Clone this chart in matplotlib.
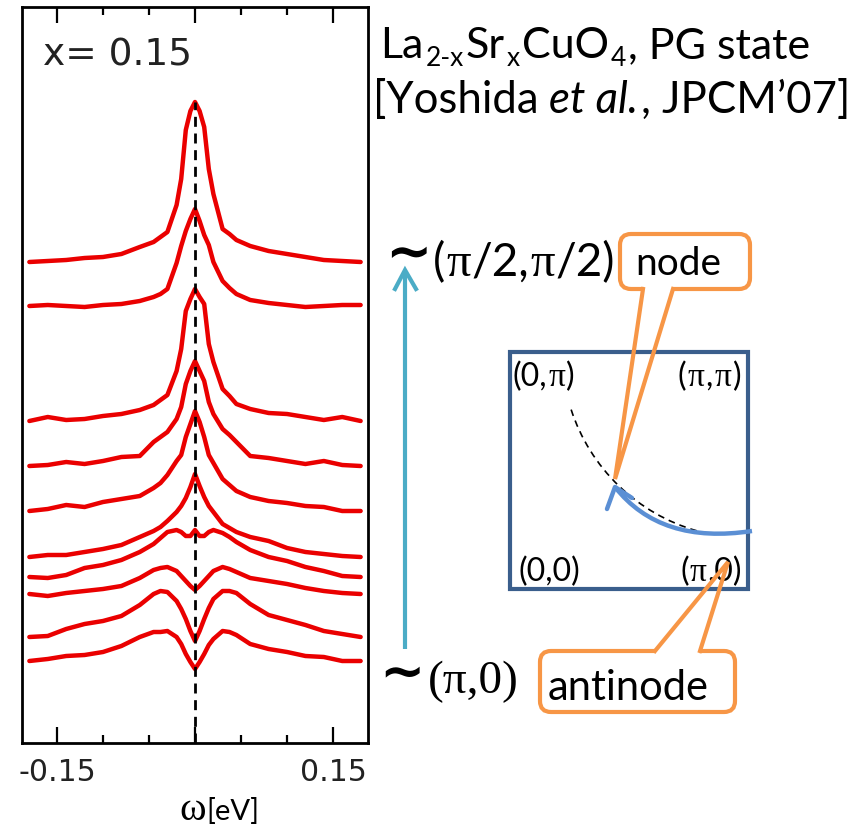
import numpy as np
import matplotlib
matplotlib.use("Agg")
import matplotlib.pyplot as plt
from matplotlib.patches import FancyBboxPatch, Polygon, Rectangle, Arc, PathPatch
from matplotlib.path import Path

W, H = 858, 828

# 能量网格 (eV)
omega = [-0.18, -0.16, -0.14, -0.12, -0.10, -0.08, -0.06, -0.045, -0.0375, -0.03, -0.02, -0.015,
         -0.01, -0.005, 0.0, 0.005, 0.01, 0.015, 0.02, 0.03, 0.0375, 0.045, 0.06, 0.08, 0.10,
         0.12, 0.14, 0.16, 0.18]

# EDC 强度 (a.u., 已叠加偏移), 从 ~(pi/2,pi/2) 到 ~(pi,0)
edc_01 = [481, 482, 483, 485, 486, 489, 496, 501, 506, 511, 538, 564, 613, 632, 641, 632, 616, 574, 549, 514, 509, 503, 497, 492, 489, 486, 483, 482, 481]
edc_02 = [437, 438, 437, 436, 438, 439, 442, 446, 449, 454, 480, 497, 512, 524, 534, 522, 508, 498, 481, 462, 455, 449, 443, 440, 438, 436, 437, 438, 438]
edc_03 = [322, 326, 323, 324, 327, 329, 333, 338, 343, 348, 372, 394, 432, 444, 454, 446, 439, 399, 381, 354, 347, 339, 334, 330, 329, 326, 323, 326, 322]
edc_04 = [277, 278, 281, 279, 282, 286, 287, 301, 306, 311, 324, 336, 359, 372, 382, 372, 362, 341, 329, 314, 308, 301, 287, 285, 282, 279, 282, 278, 277]
edc_05 = [232, 234, 238, 236, 241, 244, 247, 255, 260, 268, 282, 288, 306, 319, 332, 321, 306, 288, 280, 264, 258, 252, 246, 242, 240, 237, 236, 232, 232]
edc_06 = [186, 188, 188, 191, 194, 198, 206, 212, 216, 222, 231, 237, 245, 256, 269, 257, 246, 237, 231, 219, 215, 211, 206, 202, 195, 191, 189, 187, 186]
edc_07 = [166, 165, 168, 175, 178, 183, 191, 199, 205, 211, 213, 211, 207, 207, 213, 207, 207, 211, 213, 210, 206, 201, 193, 186, 182, 176, 172, 167, 166]
edc_08 = [149, 147, 150, 152, 154, 157, 165, 173, 175, 176, 172, 167, 162, 157, 153, 157, 162, 167, 172, 176, 174, 171, 165, 162, 159, 155, 152, 150, 149]
edc_09 = [106, 107, 114, 119, 122, 127, 138, 149, 152, 151, 142, 134, 124, 112, 102, 112, 124, 135, 144, 152, 152, 150, 139, 128, 123, 118, 112, 109, 106]
edc_10 = [82, 84, 87, 88, 91, 97, 106, 111, 111, 112, 106, 99, 89, 81, 74, 81, 89, 98, 104, 112, 111, 108, 99, 94, 91, 87, 86, 82, 82]
edcs = [edc_01, edc_02, edc_03, edc_04, edc_05, edc_06, edc_07, edc_08, edc_09, edc_10]

major_ticks = [-0.15, 0.0, 0.15]
major_labels = ["-0.15", "", "0.15"]
minor_ticks = [-0.10, -0.05, 0.05, 0.10]

ORANGE = "#f79646"
BZ_BLUE = "#3a5e8c"
ARROW_BLUE = "#5b8fd4"
CYAN = "#4bacc6"
SANS = ["Lato", "DejaVu Sans"]
SERIF = ["Liberation Serif", "DejaVu Serif"]

fig = plt.figure(figsize=(W / 100, H / 100), dpi=100)

# 左侧 EDC 图
ax = fig.add_axes([22 / W, 1 - 744 / H, 346 / W, 736 / H])
for e in edcs:
    ax.plot(omega, e, color="#ea0000", lw=3.2, solid_joinstyle="round", solid_capstyle="round", zorder=2)
ax.plot([0, 0], [0, max(edc_01)], color="black", lw=2, ls=(0, (3.6, 2.4)), zorder=3)
ax.set_xlim(-0.188, 0.188)
ax.set_ylim(0, 736)
ax.set_yticks([])
ax.set_xticks(major_ticks)
ax.set_xticklabels(major_labels)
ax.set_xticks(minor_ticks, minor=True)
ax.tick_params(axis="x", which="both", direction="in", top=True, width=1.6,
               labelsize=21.5, pad=10, labelcolor="#222222")
ax.tick_params(axis="x", which="major", length=11.5)
ax.tick_params(axis="x", which="minor", length=5.5)
for s in ax.spines.values():
    s.set_linewidth(2)

# 覆盖层 (像素坐标)
ov = fig.add_axes([0, 0, 1, 1])
ov.set_xlim(0, W)
ov.set_ylim(H, 0)
ov.axis("off")

rend = fig.canvas.get_renderer()


def runs(x, y, parts, align="left"):
    cx = x
    made = []
    for p in parts:
        s, fam, size = p[0], p[1], p[2]
        dy = p[3] if len(p) > 3 else 0
        style = p[4] if len(p) > 4 else "normal"
        gap = p[5] if len(p) > 5 else size * 0.08
        t = ov.text(cx, y + dy, s, family=fam, size=size, style=style,
                    va="baseline", ha="left", color="black", zorder=6)
        w = t.get_window_extent(rend).width
        made.append(t)
        cx += w + gap
    total = cx - x
    if align == "right":
        for t in made:
            t.set_x(t.get_position()[0] - total)
    return total


ov.text(43, 65, "x= 0.15", family="DejaVu Sans", size=27, color="#222222", va="baseline")
runs(179, 820, [("ω", SERIF, 29, 0, "normal", 1), ("[eV]", SANS, 21)])

# 标题
runs(380, 58, [("La", SANS, 31), ("2-x", SANS, 19, 8), ("Sr", SANS, 31), ("x", SANS, 19, 8),
               ("CuO", SANS, 31), ("4", SANS, 19, 8), (", PG state", SANS, 31)])
runs(373, 113, [("[Yoshida", SANS, 31.5, 0, "normal", 10), ("et al.", SANS, 31.5, 0, "italic", 3),
                (", JPCM’07]", SANS, 31.5)])

# 青色箭头
ov.plot([405, 405], [650, 272], color=CYAN, lw=3, solid_capstyle="butt")
ov.plot([395, 405, 416], [290, 271, 290], color=CYAN, lw=3, solid_joinstyle="miter")
ov.text(385, 270, "∼", family="DejaVu Sans", size=40, weight="bold", va="baseline")
ov.text(379, 688, "∼", family="DejaVu Sans", size=39, weight="bold", va="baseline")
runs(433, 276, [("(", SANS, 33, 0, "normal", 1), ("π", SERIF, 35, 0, "normal", 1),
                ("/2,", SANS, 33, 0, "normal", 1), ("π", SERIF, 35, 0, "normal", 1),
                ("/2)", SANS, 33)])
runs(428, 693, [("(π,0)", SERIF, 34)])

# 布里渊区
ov.add_patch(Rectangle((510, 353), 238, 237, fill=False, ec=BZ_BLUE, lw=3, zorder=3))
runs(513, 386, [("(0,", SANS, 23, 0, "normal", 1), ("π", SERIF, 24, 0, "normal", 1), (")", SANS, 23)])
runs(743, 386, [("(", SANS, 23, 0, "normal", 1), ("π", SERIF, 24, 0, "normal", 1), (",", SANS, 23, 0, "normal", 2),
                ("π", SERIF, 24, 0, "normal", 1), (")", SANS, 23)], align="right")
runs(518, 581, [("(0,0)", SANS, 23)])
runs(744, 581, [("(", SANS, 23, 0, "normal", 1), ("π", SERIF, 24, 0, "normal", 1), (",0)", SANS, 23)], align="right")
ov.add_patch(Arc((748, 353), 372, 372, theta1=106, theta2=162, color="black", lw=1.2,
                 ls=(0, (4, 3)), zorder=4))

# 蓝色弯箭头
blue = Path([(752, 532), (660.5, 546), (615, 488)], [Path.MOVETO, Path.CURVE3, Path.CURVE3])
ov.add_patch(PathPatch(blue, fill=False, ec=ARROW_BLUE, lw=3.2, zorder=5, capstyle="butt"))
ov.plot([607, 615, 632], [510, 488, 499], color=ARROW_BLUE, lw=3.2, zorder=5, solid_capstyle="round")


# 标注框
def callout(box, base, tip, label, lx, ly, size):
    x0, y0, w, h = box
    ov.add_patch(FancyBboxPatch((x0, y0), w, h, boxstyle="round,pad=0,rounding_size=11",
                                fc="white", ec=ORANGE, lw=3, zorder=6))
    (ax1, ay), (ax2, _) = base
    inner = 6 if ay > y0 + h / 2 else -6
    ov.add_patch(Polygon([(ax1 + 1, ay - inner), (ax2 - 1, ay - inner), (ax2 - 1, ay + inner),
                          (ax1 + 1, ay + inner)], fc="white", ec="none", zorder=7))
    ov.plot([ax1, tip[0], ax2], [ay, tip[1], ay], color=ORANGE, lw=3, zorder=7,
            solid_joinstyle="miter")
    ov.text(lx, ly, label, family=SANS, size=size, va="baseline", zorder=8)


callout((620, 235, 130, 55), [(643, 290), (673, 290)], (615, 480), "node", 635, 275, 28)
callout((540, 652, 195, 61), [(655, 652), (700, 652)], (728, 563), "antinode", 548, 700, 30)

fig.savefig("out.png", dpi=100)
